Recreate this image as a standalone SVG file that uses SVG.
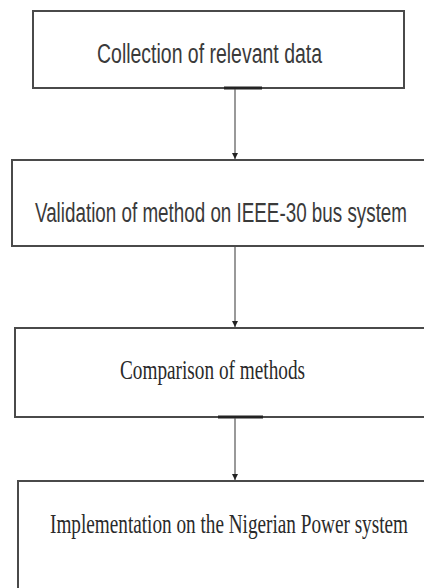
<svg xmlns="http://www.w3.org/2000/svg" width="424" height="588" viewBox="0 0 424 588">
<style>
.box{fill:#fff;stroke:#4a4a4a;stroke-width:2}
.tick{stroke:#222;stroke-width:3}
.conn{stroke:#555;stroke-width:1.2;fill:none;marker-end:url(#ah)}
.sans{font-family:"Liberation Sans",Arial,sans-serif;font-size:27px;fill:#3a3a3a}
.serif{font-family:"Liberation Serif","Times New Roman",serif;font-size:28px;fill:#2a2a2a}
</style>
<defs>
<marker id="ah" viewBox="0 0 10 10" refX="10" refY="5" markerWidth="6" markerHeight="6" orient="auto" markerUnits="userSpaceOnUse">
<path d="M0,0 L10,5 L0,10 z" fill="#222"/>
</marker>
</defs>
<rect width="424" height="588" fill="#fff"/>
<g id="n1">
<rect class="box" x="33" y="11" width="371" height="77"/>
<line class="tick" x1="224" y1="88" x2="262" y2="88"/>
<text class="sans" x="97" y="63" textLength="225" lengthAdjust="spacingAndGlyphs">Collection of relevant data</text>
</g>
<g id="n2">
<rect class="box" x="12" y="160" width="420" height="86"/>
<text class="sans" x="35" y="222" textLength="372" lengthAdjust="spacingAndGlyphs">Validation of method on IEEE-30 bus system</text>
</g>
<g id="n3">
<rect class="box" x="15" y="328" width="420" height="89"/>
<line class="tick" x1="218" y1="417" x2="263" y2="417"/>
<text class="serif" x="120" y="379" textLength="185" lengthAdjust="spacingAndGlyphs">Comparison of methods</text>
</g>
<g id="n4">
<rect class="box" x="18" y="481" width="420" height="120"/>
<text class="serif" x="50" y="533" textLength="358" lengthAdjust="spacingAndGlyphs">Implementation on the Nigerian Power system</text>
</g>
<g id="connectors">
<line class="conn" x1="235" y1="89" x2="235" y2="159"/>
<line class="conn" x1="235" y1="247" x2="235" y2="327"/>
<line class="conn" x1="235" y1="418" x2="235" y2="480"/>
</g>
</svg>
